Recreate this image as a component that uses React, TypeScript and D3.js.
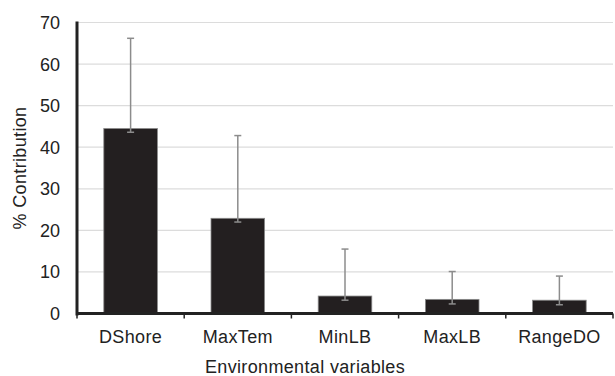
import React from "react";
import * as d3 from "d3";

const categories = ["DShore", "MaxTem", "MinLB", "MaxLB", "RangeDO"];
const values = [44.5, 22.9, 4.2, 3.4, 3.2];
const errLow = [43.6, 22.0, 3.2, 2.3, 2.1];
const errHigh = [66.2, 42.8, 15.5, 10.1, 9.0];
const yTicks = [0, 10, 20, 30, 40, 50, 60, 70];

const W = 615, H = 376;
const left = 77, right = 613, top = 22.5, bottom = 313.5;

export default function App() {
  const x = d3.scaleBand<string>().domain(categories).range([left, right]).paddingInner(0.5).paddingOuter(0.25);
  const y = d3.scaleLinear().domain([0, 70]).range([bottom, top]);
  const font = "'Liberation Sans', Arial, sans-serif";
  const fs = 18;
  const ls = 0.35;
  const step = (right - left) / categories.length;
  return (
    <svg width={W} height={H} style={{ position: "absolute", left: 0, top: 0 }} fontFamily={font}>
      {yTicks.map((t) => (
        <g key={t}>
          {t > 0 && <line x1={left} x2={right} y1={y(t)} y2={y(t)} stroke="#dcdcdc" strokeWidth={1.2} />}
          <text x={60} y={y(t)} dy="0.36em" textAnchor="end" fontSize={fs} fill="#222">{t}</text>
        </g>
      ))}
      {categories.map((c, i) => {
        const bx = x(c)!;
        const bw = x.bandwidth();
        const cx = bx + bw / 2;
        return (
          <g key={c}>
            <rect x={bx} y={y(values[i])} width={bw} height={y(0) - y(values[i])} fill="#231f20" stroke="#8a8a8a" strokeWidth={0.8} />
            <line x1={cx} x2={cx} y1={y(errLow[i])} y2={y(errHigh[i])} stroke="#8c8c8c" strokeWidth={1.5} />
            <line x1={cx - 3.5} x2={cx + 3.5} y1={y(errHigh[i])} y2={y(errHigh[i])} stroke="#8c8c8c" strokeWidth={1.5} />
            <line x1={cx - 3.5} x2={cx + 3.5} y1={y(errLow[i])} y2={y(errLow[i])} stroke="#8c8c8c" strokeWidth={1.5} />
            <text x={cx} y={342.7} textAnchor="middle" fontSize={fs} letterSpacing={ls} fill="#222">{c}</text>
          </g>
        );
      })}
      {d3.range(categories.length + 1).map((k) => (
        <line key={k} x1={left + k * step} x2={left + k * step} y1={bottom} y2={bottom + 5} stroke="#222" strokeWidth={1.5} />
      ))}
      <line x1={left} x2={right} y1={bottom} y2={bottom} stroke="#222" strokeWidth={3} />
      <line x1={left} x2={left} y1={top - 1} y2={bottom + 2} stroke="#222" strokeWidth={3} />
      <text transform={`translate(25.5,${(top + bottom) / 2}) rotate(-90)`} textAnchor="middle" fontSize={fs} letterSpacing={ls} fill="#222">% Contribution</text>
      <text x={305} y={372.5} textAnchor="middle" fontSize={fs} letterSpacing={ls} fill="#222">Environmental variables</text>
    </svg>
  );
}
